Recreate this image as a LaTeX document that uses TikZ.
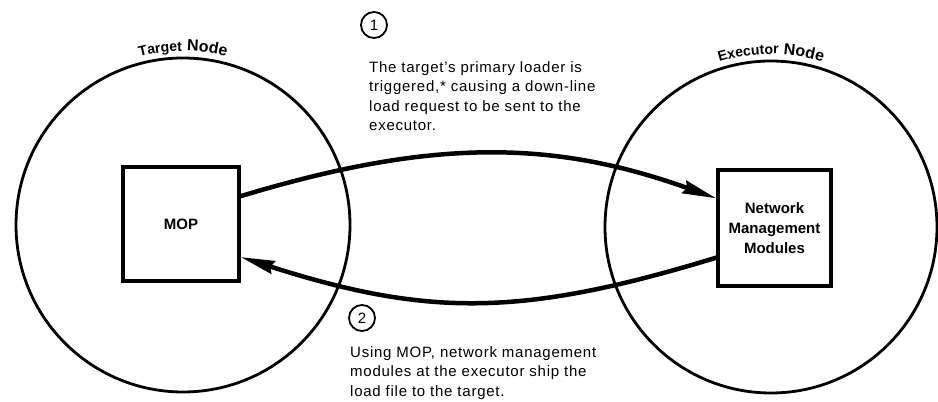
\documentclass[tikz,border=0pt]{standalone}
\usepackage{fontspec}
\setmainfont{Liberation Sans}
\newfontfamily\spacedfam[LetterSpace=5]{Liberation Sans}
\newfontfamily\lblfam[LetterSpace=6]{Liberation Sans Bold}
\usetikzlibrary{arrows.meta,decorations.text}
\newcommand\lblA{\lblfam\fontsize{14}{16}\selectfont}
\newcommand\lblB{\lblfam\fontsize{16}{18}\selectfont}
\begin{document}
\begin{tikzpicture}[x=1pt,y=1pt,
  ring/.style={circle, draw, line width=2.8pt, inner sep=0pt, outer sep=0pt},
  box/.style={draw, line width=3.2pt, inner sep=0pt, align=center,
    font=\bfseries\fontsize{15}{20}\selectfont},
  flow/.style={line width=4.5pt, -{Stealth[length=34pt,width=13pt,inset=3pt]}},
  num/.style={circle, draw, line width=1.8pt, minimum size=26pt, inner sep=0pt,
    font=\fontsize{15}{17}\selectfont},
  desc/.style={align=left, anchor=north west, inner sep=0pt,
    font=\spacedfam\fontsize{15}{19.5}\selectfont}
]
\useasboundingbox (0,0) rectangle (938,402);

% node circles
\node[ring, minimum size=334pt] (tgt) at (183,177) {};
\node[ring, minimum size=332pt] (exe) at (771,175) {};

% circle labels along the arcs
\path[decorate, decoration={text along path, text align=center,
    text={|\lblA|Target |\lblB|Node}}]
  ([shift={(125:174)}]tgt.center) arc[start angle=125, end angle=55, radius=174];
\path[decorate, decoration={text along path, text align=center,
    text={|\lblA|Executor |\lblB|Node}}]
  ([shift={(125:173)}]exe.center) arc[start angle=125, end angle=55, radius=173];

% boxes
\node[box, minimum width=116pt, minimum height=114pt] (mop) at (181,178) {MOP};
\node[box, minimum width=113pt, minimum height=116pt] (nmm) at (774.5,174)
  {Network\\Management\\Modules};

% connectors
\draw[flow] (mop.25) .. controls (433,264) and (553,262) .. (nmm.153);
\draw[flow] (nmm.207) .. controls (522,85) and (428,85) .. (mop.-29);

% step numbers
\node[num] (n1) at (374,377) {1};
\node[num] (n2) at (362,84) {2};

% descriptions
\node[desc] (d1) at (369,341)
  {The target’s primary loader is\\triggered,* causing a down-line\\load request to be sent to the\\executor.};
\node[desc] (d2) at (350,56)
  {Using MOP, network management\\modules at the executor ship the\\load file to the target.};
\end{tikzpicture}
\end{document}
